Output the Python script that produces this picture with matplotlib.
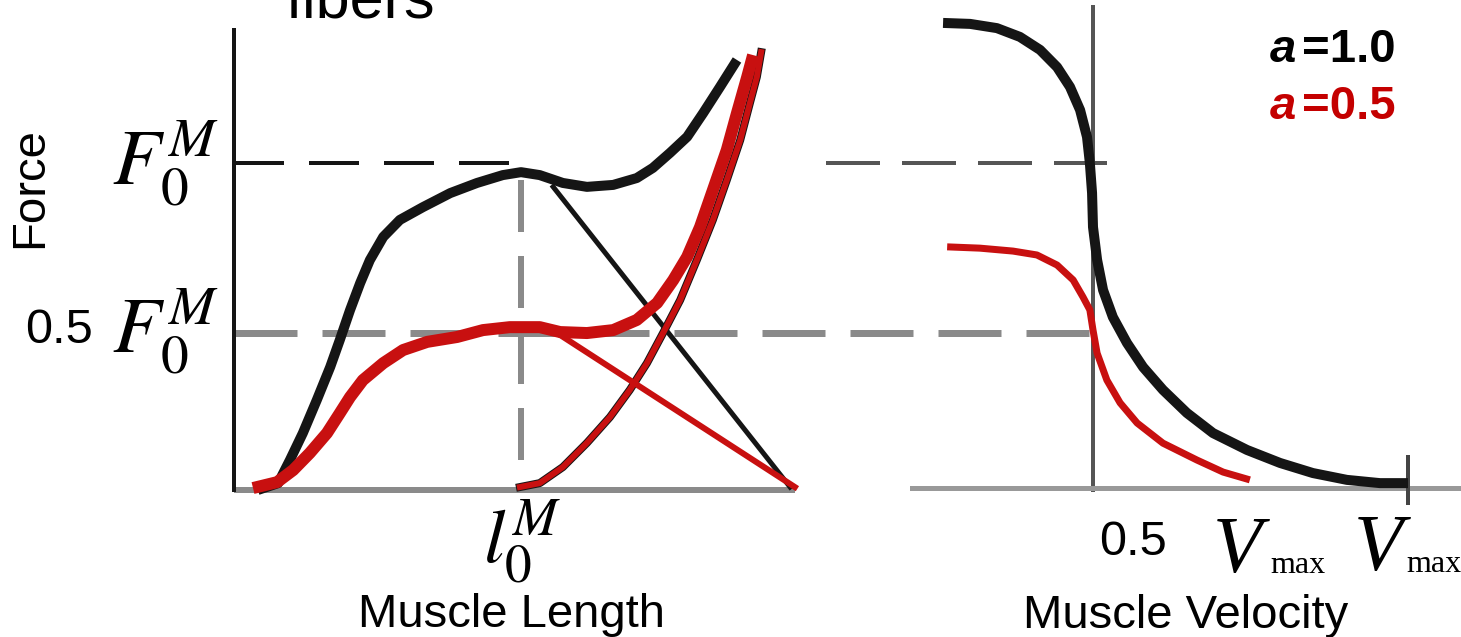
import matplotlib
matplotlib.use("Agg")
import matplotlib.pyplot as plt

W, H = 1461, 637
plt.rcParams["mathtext.fontset"] = "stix"
plt.rcParams["lines.scale_dashes"] = False
plt.rcParams["lines.solid_joinstyle"] = "round"
plt.rcParams["font.family"] = ["Liberation Sans", "DejaVu Sans"]

BLACK = "#151515"
RED = "#c81010"
GRAY = "#8a8a8a"
DGRAY = "#555555"

# ---- force-length data (x = l / l0, y = F / F0) ----
total_a1_x = [0.509, 0.547, 0.569, 0.593, 0.619, 0.644, 0.662, 0.681, 0.700, 0.718, 0.743, 0.774,
              0.817, 0.868, 0.918, 0.966, 1.0, 1.035, 1.078, 1.123, 1.172, 1.216, 1.246, 1.278,
              1.310, 1.340, 1.371, 1.403]
total_a1_y = [0.0, 0.021, 0.092, 0.174, 0.275, 0.376, 0.459, 0.550, 0.633, 0.703, 0.774, 0.826,
              0.865, 0.908, 0.939, 0.963, 0.972, 0.963, 0.939, 0.927, 0.933, 0.954, 0.985, 1.031,
              1.080, 1.153, 1.232, 1.315]
desc_a1_x = [1.060, 1.502]
desc_a1_y = [0.927, 0.009]

total_a05_x = [0.500, 0.545, 0.575, 0.606, 0.638, 0.662, 0.681, 0.705, 0.743, 0.780, 0.825, 0.881,
               0.929, 0.979, 1.017, 1.035, 1.073, 1.123, 1.172, 1.216, 1.254, 1.284, 1.310, 1.334,
               1.358, 1.384, 1.403, 1.422, 1.433]
total_a05_y = [0.006, 0.024, 0.061, 0.113, 0.174, 0.235, 0.284, 0.336, 0.388, 0.428, 0.453, 0.468,
               0.489, 0.498, 0.498, 0.498, 0.483, 0.480, 0.489, 0.520, 0.572, 0.642, 0.713, 0.804,
               0.917, 1.040, 1.153, 1.263, 1.330]
desc_a05_x = [1.073, 1.511]
desc_a05_y = [0.474, 0.009]

passive_x = [0.998, 1.035, 1.078, 1.123, 1.166, 1.203, 1.235, 1.265, 1.297, 1.328, 1.358, 1.384,
             1.409, 1.427, 1.440, 1.448]
passive_y = [0.009, 0.021, 0.070, 0.144, 0.223, 0.306, 0.388, 0.480, 0.581, 0.703, 0.826, 0.948,
             1.070, 1.183, 1.263, 1.339]

# ---- force-velocity data (x = v / Vmax, y = F / F0) ----
fv_a1_x = [-0.476, -0.390, -0.305, -0.232, -0.168, -0.114, -0.073, -0.041, -0.019, -0.010, -0.003,
           0.0, 0.013, 0.032, 0.063, 0.108, 0.159, 0.222, 0.298, 0.381, 0.489, 0.594, 0.698,
           0.806, 0.911, 1.0]
fv_a1_y = [1.431, 1.428, 1.415, 1.388, 1.348, 1.295, 1.234, 1.163, 1.080, 1.0, 0.908, 0.803,
           0.702, 0.609, 0.526, 0.446, 0.372, 0.302, 0.231, 0.169, 0.117, 0.077, 0.046, 0.025,
           0.015, 0.015]
fv_a05_x = [-0.463, -0.359, -0.254, -0.178, -0.114, -0.063, -0.032, -0.010, 0.0, 0.013, 0.044,
            0.086, 0.140, 0.222, 0.330, 0.413, 0.498]
fv_a05_y = [0.742, 0.738, 0.729, 0.717, 0.686, 0.640, 0.588, 0.548, 0.486, 0.415, 0.332, 0.262,
            0.200, 0.138, 0.086, 0.049, 0.025]

fig = plt.figure(figsize=(W / 100, H / 100), dpi=100)


def px_axes(x0, x1):
    return fig.add_axes([x0 / W, 0, (x1 - x0) / W, 1])


def pt(px):
    return px * 0.72


# left panel: l0 at x=521px, 536 px per unit; F=0 at y=490px, 327 px per unit
ax1 = px_axes(0, 820)
ax1.set_xlim(1 + (0 - 521) / 536, 1 + (820 - 521) / 536)
ax1.set_ylim((490 - 637) / 327, 490 / 327)
ax1.axis("off")

# right panel: v=0 at x=1093px, 315 px per unit; F=0 at y=488px, 325 px per unit
ax2 = px_axes(820, W)
ax2.set_xlim((820 - 1093) / 315, (W - 1093) / 315)
ax2.set_ylim((488 - 637) / 325, 488 / 325)
ax2.axis("off")

x_ax = 1 + (234 - 521) / 536

# axes of the left panel
ax1.plot([x_ax, x_ax], [1.413, -0.006], color=BLACK, lw=pt(4), solid_capstyle="butt", zorder=2)
ax1.plot([x_ax, 1.511], [0, 0], color=GRAY, lw=pt(6), solid_capstyle="butt", zorder=1)
ax1.plot([x_ax, 0.989], [1.0, 1.0], color=BLACK, lw=pt(4), dashes=(pt(50), pt(25)), zorder=1)
ax1.plot([1.0, 1.0], [0.948, 0.0], color=GRAY, lw=pt(6), dashes=(pt(52), pt(24)), zorder=1)
x_end = ax1.transData.inverted().transform(ax2.transData.transform((0, 0)))[0]
ax1.plot([x_ax, x_end], [0.48, 0.48], color=GRAY, lw=pt(7), dashes=(pt(63), pt(25)),
         clip_on=False, zorder=1)

ax1.plot(passive_x, passive_y, color=BLACK, lw=pt(8), zorder=3)
ax1.plot(total_a1_x, total_a1_y, color=BLACK, lw=pt(10), zorder=3, solid_capstyle="butt")
ax1.plot(desc_a1_x, desc_a1_y, color=BLACK, lw=pt(5), zorder=3)
ax1.plot(total_a05_x, total_a05_y, color=RED, lw=pt(12), zorder=4, solid_capstyle="butt")
ax1.plot(desc_a05_x, desc_a05_y, color=RED, lw=pt(6), zorder=4)
ax1.plot(passive_x, passive_y, color=RED, lw=pt(6), zorder=4)

# axes of the right panel
ax2.plot([0, 0], [1.48, -0.006], color=DGRAY, lw=pt(4), zorder=1)
ax2.plot([-0.575, 1.17], [0, 0], color="#999999", lw=pt(5), zorder=1)
ax2.plot([1, 1], [0.095, -0.046], color="#444444", lw=pt(4), zorder=1)
ax2.plot([-0.848, 0.044], [1.0, 1.0], color=DGRAY, lw=pt(4), dashes=(pt(54), pt(22)), zorder=1)

ax2.plot(fv_a1_x, fv_a1_y, color=BLACK, lw=pt(10), zorder=3, solid_capstyle="butt")
ax2.plot(fv_a05_x, fv_a05_y, color=RED, lw=pt(7), zorder=3, solid_capstyle="butt")


def ftext(x, y, s, **kw):
    fig.text(x / W, 1 - y / H, s, **kw)


sans = 34
ftext(30, 188, "Force", fontsize=sans, rotation=90, ha="center", va="center")
ftext(285, 17, "fibers", fontsize=44, ha="left", va="baseline")
ftext(219, 185, r"$F_0^M$", fontsize=57, ha="right", va="baseline")
ftext(93, 343, "0.5", fontsize=35, ha="right", va="baseline")
ftext(219, 352, r"$F_0^M$", fontsize=57, ha="right", va="baseline")
ftext(522, 563, r"$l_0^M$", fontsize=55, ha="center", va="baseline")
ftext(511, 627, "Muscle Length", fontsize=sans, ha="center", va="baseline")
ftext(1186, 628, "Muscle Velocity", fontsize=sans, ha="center", va="baseline")

ftext(1099, 555, "0.5", fontsize=35, ha="left", va="baseline")
ftext(1213, 572, "V", fontsize=58, family="Liberation Serif", style="italic", ha="left", va="baseline")
ftext(1270, 573, "max", fontsize=23, family="Liberation Serif", ha="left", va="baseline")
ftext(1354, 570, "V", fontsize=58, family="Liberation Serif", style="italic", ha="left", va="baseline")
ftext(1406, 572, "max", fontsize=23, family="Liberation Serif", ha="left", va="baseline")

ftext(1270, 62, "a", fontsize=34, weight="bold", style="italic", color="black", ha="left", va="baseline")
ftext(1302, 62, "=1.0", fontsize=34, weight="bold", color="black", ha="left", va="baseline")
ftext(1270, 119, "a", fontsize=34, weight="bold", style="italic", color="#c40000", ha="left", va="baseline")
ftext(1302, 119, "=0.5", fontsize=34, weight="bold", color="#c40000", ha="left", va="baseline")

fig.savefig("out.png", dpi=100)
